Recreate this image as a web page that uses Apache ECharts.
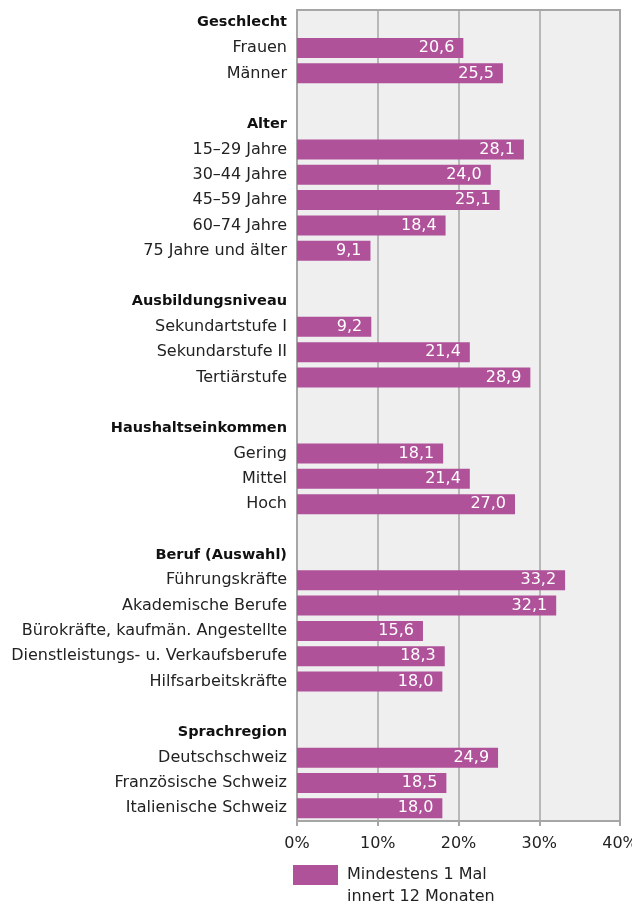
<!DOCTYPE html>
<html>
<head>
<meta charset="utf-8">
<script src="https://cdn.jsdelivr.net/npm/echarts@6/dist/echarts.min.js"></script>
<style>
  html, body { margin: 0; padding: 0; background: #fff; }
  #chart { width: 632px; height: 904px; }
</style>
</head>
<body>
<div id="chart"></div>
<script>
    // Gruppen und Kategorien (Reihenfolge von oben nach unten)
    var groupNames = ['Geschlecht', 'Alter', 'Ausbildungsniveau', 'Haushaltseinkommen', 'Beruf (Auswahl)', 'Sprachregion'];
    var groupItems = [
        ['Frauen', 'Männer'],
        ['15–29 Jahre', '30–44 Jahre', '45–59 Jahre', '60–74 Jahre', '75 Jahre und älter'],
        ['Sekundartstufe I', 'Sekundarstufe II', 'Tertiärstufe'],
        ['Gering', 'Mittel', 'Hoch'],
        ['Führungskräfte', 'Akademische Berufe', 'Bürokräfte, kaufmän. Angestellte', 'Dienstleistungs- u. Verkaufsberufe', 'Hilfsarbeitskräfte'],
        ['Deutschschweiz', 'Französische Schweiz', 'Italienische Schweiz']
    ];
    var groupValues = [
        [20.6, 25.5],
        [28.1, 24.0, 25.1, 18.4, 9.1],
        [9.2, 21.4, 28.9],
        [18.1, 21.4, 27.0],
        [33.2, 32.1, 15.6, 18.3, 18.0],
        [24.9, 18.5, 18.0]
    ];
    var xTicks = [0, 10, 20, 30, 40];
    var legendLines = ['Mindestens 1 Mal', 'innert 12 Monaten'];

    // Kategorienliste mit Überschriften und Leerzeilen
    var categories = [];
    var values = [];
    var headerKeys = {};
    groupNames.forEach(function (name, g) {
        if (g > 0) {
            categories.push('__gap' + g);
            values.push(null);
        }
        categories.push(name);
        headerKeys[name] = true;
        values.push(null);
        groupItems[g].forEach(function (item, i) {
            categories.push(item);
            values.push(groupValues[g][i]);
        });
    });

    var FONT = '"DejaVu Sans", sans-serif';
    var seriesName = legendLines.join(' ');
    var chart = echarts.init(document.getElementById('chart'));
    chart.setOption({
        animation: false,
        textStyle: { fontFamily: FONT },
        grid: {
            left: 297, right: 12, top: 10, bottom: 83,
            outerBoundsMode: 'none',
            show: true,
            backgroundColor: '#efefef',
            borderColor: '#a6a6a6',
            borderWidth: 2
        },
        legend: {
            left: 288, top: 860,
            itemWidth: 45, itemHeight: 20,
            icon: 'rect',
            itemGap: 8,
            formatter: function () { return legendLines[0]; },
            textStyle: { fontSize: 16, color: '#222', fontFamily: FONT, padding: [0, 0, 0, 4] },
            data: [seriesName]
        },
        graphic: [{
            type: 'text',
            left: 347, top: 889,
            style: { text: legendLines[1], font: '16px ' + FONT, fill: '#222' }
        }],
        xAxis: {
            type: 'value',
            min: xTicks[0], max: xTicks[xTicks.length - 1], interval: 10,
            axisLine: { show: true, lineStyle: { color: '#a6a6a6', width: 2 } },
            axisTick: { show: true, length: 5, lineStyle: { color: '#a6a6a6', width: 2 } },
            splitLine: { show: true, lineStyle: { color: '#a6a6a6', width: 1.5 } },
            axisLabel: { formatter: '{value}%', fontSize: 16, color: '#222', margin: 15 }
        },
        yAxis: {
            type: 'category',
            inverse: true,
            data: categories,
            axisLine: { show: false },
            axisTick: { show: false },
            axisLabel: {
                margin: 10, fontSize: 16, color: '#222',
                formatter: function (v) {
                    if (v.indexOf('__gap') === 0) return '';
                    return headerKeys[v] ? '{b|' + v + '}' : v;
                },
                rich: { b: { fontWeight: 'bold', fontSize: 14.5, color: '#111' } }
            }
        },
        series: [{
            name: seriesName,
            type: 'bar',
            data: values,
            barCategoryGap: '21%',
            itemStyle: { color: '#b0529a' },
            label: {
                show: true, position: 'insideRight', color: '#fff', fontSize: 16, distance: 9,
                formatter: function (p) { return p.value == null ? '' : p.value.toFixed(1).replace('.', ','); }
            }
        }]
    });
</script>
</body>
</html>
